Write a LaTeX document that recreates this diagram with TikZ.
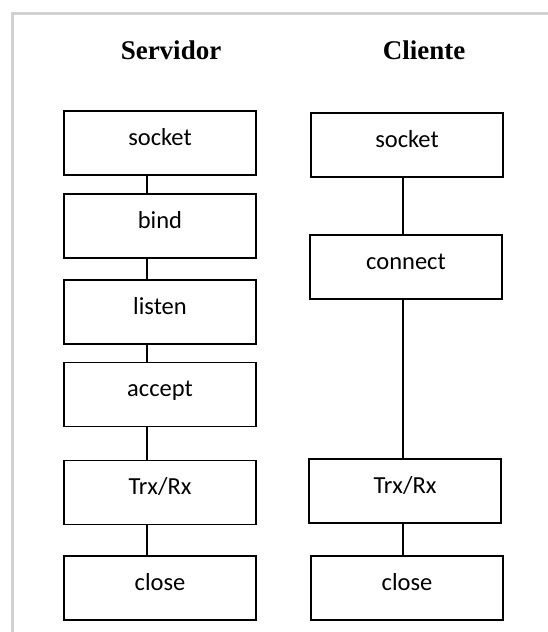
\documentclass[tikz,border=0pt]{standalone}
\usepackage{fontspec}
\setmainfont{Liberation Serif}
\newfontfamily\boxfont{Carlito}
\usetikzlibrary{positioning}
\definecolor{framegray}{rgb}{0.82, 0.82, 0.82}
\tikzset{callbox/.style = {draw, rectangle, line width = 1.5pt, minimum width = 192pt,
                           minimum height = 64pt, inner sep = 0pt,
                           text height = 13pt, text depth = 9pt,
                           font = \boxfont\fontsize{24.5}{29}\selectfont}}
\tikzset{title/.style = {anchor = base, font = \bfseries\fontsize{27}{32}\selectfont}}
\tikzset{link/.style = {line width = 1.5pt}}

\begin{document}
\begin{tikzpicture}[x = 1pt, y = -1pt]
    \useasboundingbox (0, 0) rectangle (548, 632);
    \draw [framegray, line width = 3pt] (12, 632) -- (12, 13) -- (548, 13);

    \node [title] (servidor) at (171, 59) {Servidor};
    \node [title] (cliente) at (424, 59) {Cliente};

    \node [callbox] (ssocket) at (160, 143) {socket};
    \node [callbox] (sbind)   at (160, 226) {bind};
    \node [callbox] (slisten) at (160, 312) {listen};
    \node [callbox] (saccept) at (160, 394.5) {accept};
    \node [callbox] (strx)    at (160, 492.5) {Trx/Rx};
    \node [callbox] (sclose)  at (160, 588) {close};

    \node [callbox] (csocket)  at (407, 145) {socket};
    \node [callbox] (cconnect) at (406, 267) {connect};
    \node [callbox] (ctrx)     at (405, 491) {Trx/Rx};
    \node [callbox] (cclose)   at (407, 588) {close};

    \coordinate (sline) at (147, 0);
    \coordinate (cline) at (403, 0);
    \draw [link] (ssocket.south -| sline) -- (sbind.north -| sline);
    \draw [link] (sbind.south -| sline) -- (slisten.north -| sline);
    \draw [link] (slisten.south -| sline) -- (saccept.north -| sline);
    \draw [link] (saccept.south -| sline) -- (strx.north -| sline);
    \draw [link] (strx.south -| sline) -- (sclose.north -| sline);

    \draw [link] (csocket.south -| cline) -- (cconnect.north -| cline);
    \draw [link] (cconnect.south -| cline) -- (ctrx.north -| cline);
    \draw [link] (ctrx.south -| cline) -- (cclose.north -| cline);
  \end{tikzpicture}
\end{document}
